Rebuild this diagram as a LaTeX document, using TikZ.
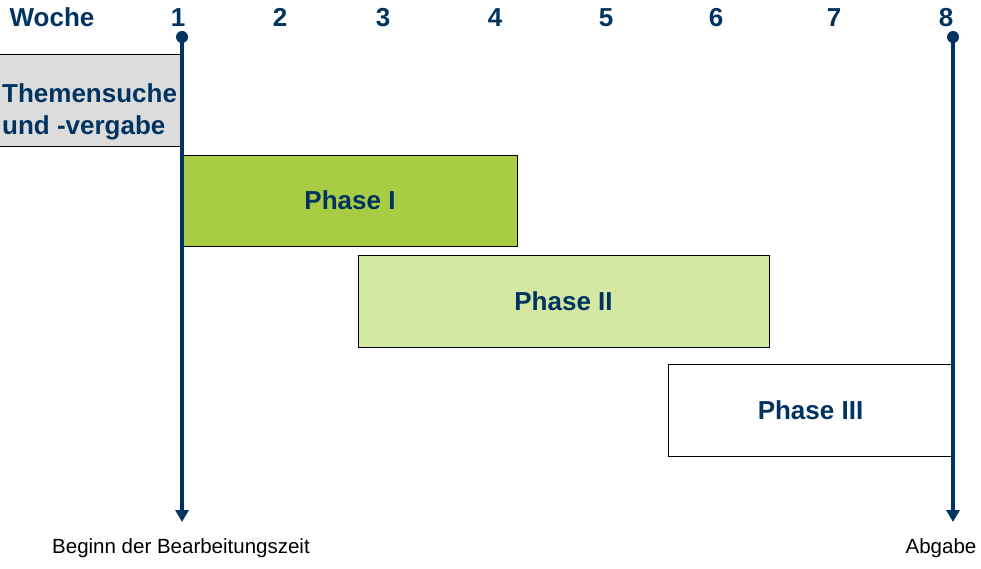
\documentclass[tikz,border=0pt]{standalone}
\usepackage{fontspec}
\setmainfont{Liberation Sans}
\usetikzlibrary{arrows.meta}
\definecolor{uniblue}{RGB}{0,51,96}
\definecolor{phaseone}{RGB}{168,204,68}
\definecolor{phasetwo}{RGB}{212,232,164}
\definecolor{topicgray}{RGB}{220,220,220}

\tikzset{
  bigtext/.style={font=\fontsize{26}{32}\selectfont\bfseries, text=uniblue},
  phasebox/.style={bigtext, draw=black, line width=0.8pt, inner sep=0pt},
  timeline/.style={draw=uniblue, line width=4pt, -{Triangle[length=12pt,width=13pt]}},
  milestone/.style={circle, fill=uniblue, inner sep=0pt, minimum size=12pt},
  smalltext/.style={font=\fontsize{20.5}{24}\selectfont, text=black}
}

\begin{document}
\begin{tikzpicture}[x=1pt, y=-1pt]
      \useasboundingbox (0,0) rectangle (981,569);

      % week header
      \node[bigtext, anchor=base] (woche) at (52,27) {Woche};
      \foreach \x/\n in {178/1, 280/2, 383/3, 495/4, 606/5, 716/6, 834/7, 946/8}
        \node[bigtext, anchor=base] (w\n) at (\x,27) {\n};

      % phases
      \node[fill=topicgray, minimum width=182pt, minimum height=91pt, inner sep=0pt] (topic) at (91,100.5) {};
      \draw[line width=0.8pt] (topic.north west) -- (topic.north east);
      \draw[line width=0.8pt] (topic.south west) -- (topic.south east);
      \node[bigtext, anchor=base west, align=left, inner sep=0pt] (topiclabel) at (2,135)
            {Themensuche\\und -vergabe};
      \node[phasebox, fill=phaseone, minimum width=334pt, minimum height=91pt] (p1) at (350,200.5) {Phase I};
      \node[phasebox, fill=phasetwo, minimum width=411pt, minimum height=92pt] (p2) at (563.5,301) {Phase II};
      \node[phasebox, fill=white, minimum width=285pt, minimum height=92pt] (p3) at (810.5,410) {Phase III};

      % time line
      \node[milestone] (t1) at (182,37) {};
      \node[milestone] (t8) at (953,37) {};
      \coordinate (e1) at (182,522);
      \coordinate (e8) at (953,522);
      \draw[timeline] (t1.center) -- (e1);
      \draw[timeline] (t8.center) -- (e8);

      \node[smalltext] (start) at (181,548) {Beginn der Bearbeitungszeit};
      \node[smalltext] (end) at (941,548) {Abgabe};
    \end{tikzpicture}
\end{document}
